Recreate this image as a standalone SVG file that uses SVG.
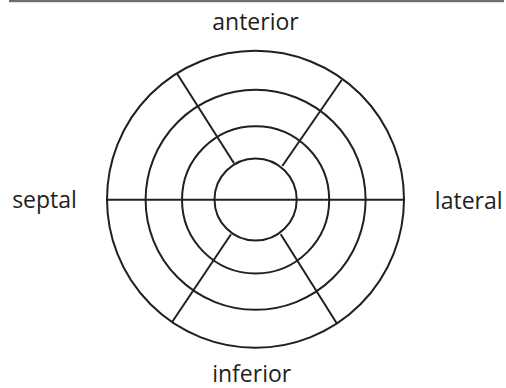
<svg xmlns="http://www.w3.org/2000/svg" width="506" height="388" viewBox="0 0 506 388">
<style>
.ring{fill:none;stroke:#231f20;stroke-width:2}
.lbl{font-family:"Open Sans","Noto Sans",sans-serif;font-size:23px;fill:#231f20}
</style>
<rect width="506" height="388" fill="#fff"/>
<rect x="9" y="0" width="495" height="2.2" fill="#6d6e71"/>
<g id="bullseye">
<circle class="ring" cx="255.5" cy="199.3" r="148.5"/>
<circle class="ring" cx="255.6" cy="199.8" r="110"/>
<circle class="ring" cx="255.6" cy="199.8" r="73.6"/>
<circle class="ring" cx="255.6" cy="199.5" r="41.1"/>
</g>
<g id="connectors" class="ring">
<line x1="107" y1="199.7" x2="404" y2="199.7"/>
<line x1="177.3" y1="74" x2="234" y2="163.3"/>
<line x1="341.7" y1="80" x2="282.3" y2="166"/>
<line x1="231" y1="234.3" x2="172.3" y2="321.7"/>
<line x1="280.7" y1="234.3" x2="336.7" y2="323.3"/>
</g>
<g id="labels" class="lbl">
<text x="255.5" y="30" text-anchor="middle">anterior</text>
<text x="44.5" y="207.5" text-anchor="middle">septal</text>
<text x="468.7" y="208.5" text-anchor="middle">lateral</text>
<text x="251.7" y="382" text-anchor="middle">inferior</text>
</g>
</svg>
